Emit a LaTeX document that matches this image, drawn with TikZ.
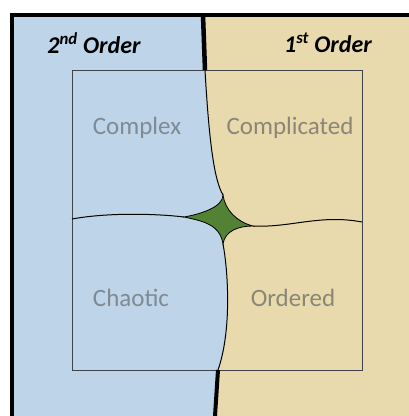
\documentclass[tikz,border=0pt]{standalone}
\usepackage{fontspec}
\setmainfont{Carlito}
\definecolor{paneblue}{HTML}{BDD4E9}
\definecolor{panetan}{HTML}{E8DAAC}
\definecolor{cusp}{HTML}{548235}
\definecolor{graylabel}{HTML}{808A93}
\definecolor{tanlabel}{HTML}{8A8778}
\definecolor{boxline}{HTML}{3F434A}
\tikzset{
  frame/.style={line width=4pt, line join=miter},
  seam/.style={line width=1pt, black},
  quadlabel/.style={font=\fontsize{25}{30}\selectfont, text=graylabel},
  heading/.style={font=\fontsize{24}{28}\selectfont\bfseries\itshape, text=black}
}
\begin{document}
\begin{tikzpicture}[x=1pt,y=-1pt]
\useasboundingbox (0,0) rectangle (409,416);
% key points of the boundary
\coordinate (topgap) at (203,15);
\coordinate (topend) at (205,70);
\coordinate (T) at (223,195);
\coordinate (L) at (184,217);
\coordinate (R) at (253,226);
\coordinate (B) at (223,244);
\coordinate (C) at (225,222);
\coordinate (botstart) at (218,370);
\coordinate (botend) at (215,416);
\coordinate (lefttip) at (72,219);
\coordinate (righttip) at (362,222);
% panes
\fill[panetan] (12,15) rectangle (409,416);
\fill[paneblue] (12,15) -- (topgap) -- (topend)
  .. controls (209,140) and (214,180) .. (T) -- (C) -- (B)
  .. controls (228,270) and (232,330) .. (botstart) -- (botend) -- (12,416) -- cycle;
% inner square
\draw[boxline, line width=0.9pt] (72,70) rectangle (362,370);
% central cusp
\filldraw[fill=cusp, draw=black, line width=0.8pt]
  (T) .. controls (223,207) and (201,214) .. (L)
      .. controls (202,221) and (220,224) .. (B)
      .. controls (225,231) and (238,226) .. (R)
      .. controls (237,222) and (225,210) .. (T) -- cycle;
% seams between quadrants
\draw[seam] (topend) .. controls (209,140) and (214,180) .. (T);
\draw[seam] (L) .. controls (160,214) and (110,212) .. (lefttip);
\draw[seam] (R) .. controls (290,228) and (320,214) .. (righttip);
\draw[seam] (B) .. controls (228,270) and (232,330) .. (botstart);
% outer frame and thick divider
\draw[frame] (12,416) -- (12,15) -- (409,15);
\draw[line width=4.5pt] (topgap) -- (topend);
\draw[line width=4pt] (botstart) -- (botend);
% headings
\node[heading] (second) at (94,43) {2\textsuperscript{nd} Order};
\node[heading] (first) at (328,43) {1\textsuperscript{st} Order};
% quadrant labels
\node[quadlabel] (complex) at (137,128) {Complex};
\node[quadlabel, text=tanlabel] (complicated) at (290,128) {Complicated};
\node[quadlabel] (chaotic) at (131,298) {Chaotic};
\node[quadlabel, text=tanlabel] (ordered) at (293,298) {Ordered};
\end{tikzpicture}
\end{document}
